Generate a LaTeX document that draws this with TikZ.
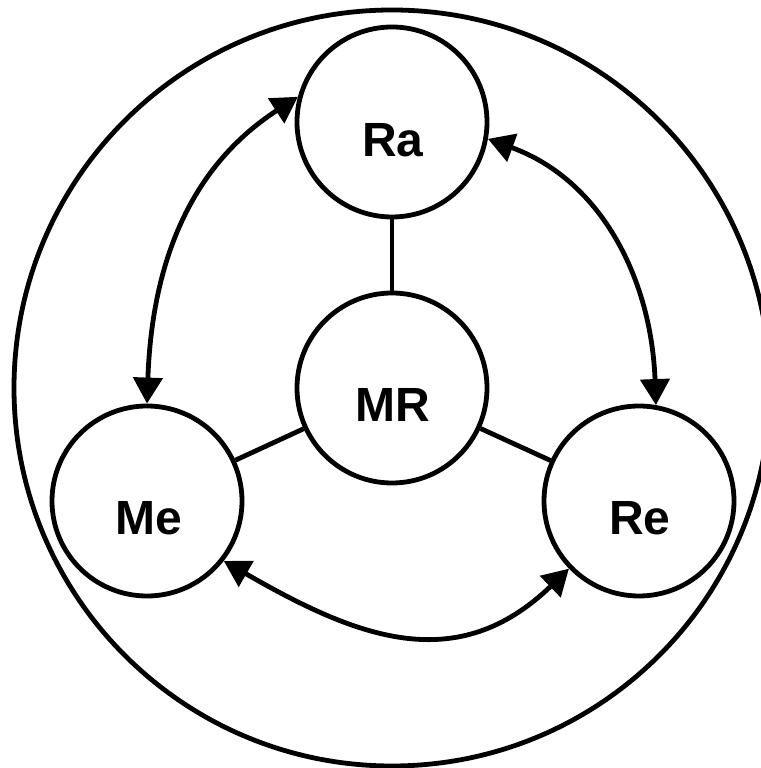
\documentclass[tikz,border=0pt]{standalone}
\usepackage{fontspec}
\setmainfont{Liberation Sans}
\usetikzlibrary{arrows.meta}
\begin{document}
\begin{tikzpicture}[x=1pt,y=1pt,
  every path/.style={line width=4.8pt},
  circ/.style={draw, circle, line width=4.8pt, minimum size=190pt, inner sep=0pt},
  lbl/.style={anchor=base, inner sep=0pt, font=\fontsize{48}{58}\selectfont\bfseries},
  dbl/.style={{Triangle[length=26pt,width=29pt]}-{Triangle[length=26pt,width=29pt]}}
]
\useasboundingbox (0,0) rectangle (760,768);
\fill[white] (0,0) rectangle (760,768);
\node[draw, circle, line width=4.8pt, minimum size=756pt, inner sep=0pt] (outer) at (392,380) {};
\node[circ] (Ra) at (392,646) {};
\node[circ] (MR) at (392,380) {};
\node[circ] (Me) at (147,267) {};
\node[circ] (Re) at (639,267) {};
\node[lbl] (Ratext) at (393,611) {Ra};
\node[lbl] (MRtext) at (393,346) {MR};
\node[lbl] (Metext) at (149,233) {Me};
\node[lbl] (Retext) at (640,233) {Re};
\draw (Ra) -- (MR);
\draw (MR) -- (Me);
\draw (MR) -- (Re);
\draw[dbl] (Me.90) to[out=88,in=213] (Ra.165);
\draw[dbl] (Ra.-10) to[out=-20,in=92] (Re.80);
\draw[dbl] (Me.-38) to[out=-30,in=224,looseness=1.15] (Re.224);
\end{tikzpicture}
\end{document}
